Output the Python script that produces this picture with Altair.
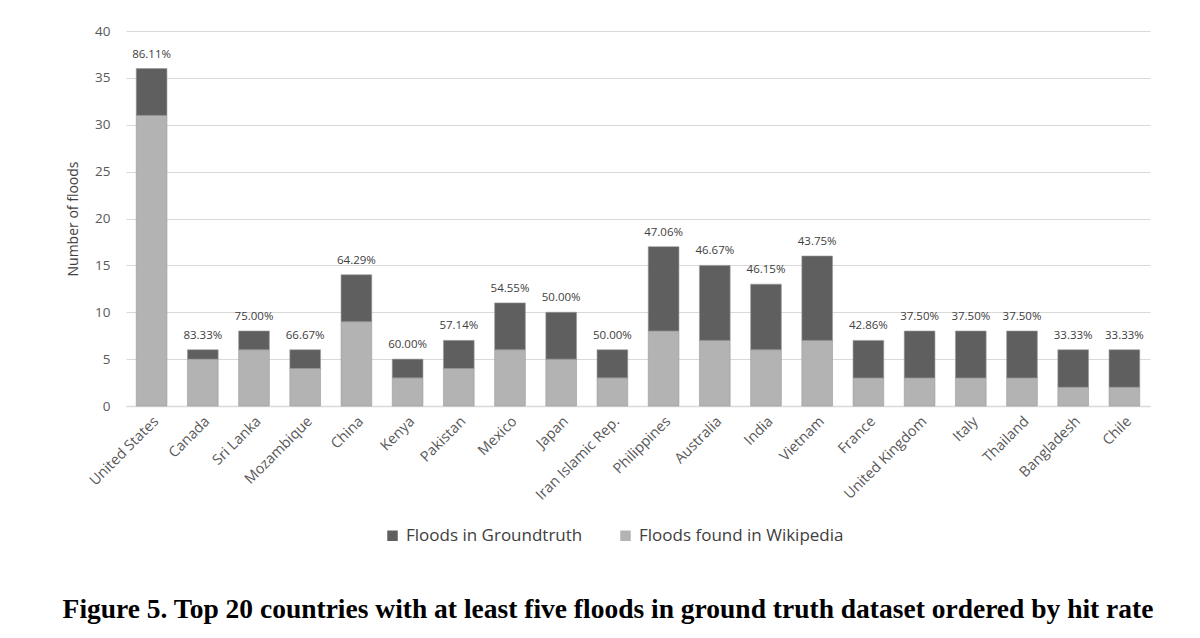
import altair as alt
import pandas as pd

countries = ["United States", "Canada", "Sri Lanka", "Mozambique", "China", "Kenya",
             "Pakistan", "Mexico", "Japan", "Iran Islamic Rep.", "Philippines", "Australia",
             "India", "Vietnam", "France", "United Kingdom", "Italy", "Thailand",
             "Bangladesh", "Chile"]
groundtruth = [36, 6, 8, 6, 14, 5, 7, 11, 10, 6, 17, 15, 13, 16, 7, 8, 8, 8, 6, 6]
wikipedia = [31, 5, 6, 4, 9, 3, 4, 6, 5, 3, 8, 7, 6, 7, 3, 3, 3, 3, 2, 2]
hit_rate = ["86.11%", "83.33%", "75.00%", "66.67%", "64.29%", "60.00%", "57.14%",
            "54.55%", "50.00%", "50.00%", "47.06%", "46.67%", "46.15%", "43.75%",
            "42.86%", "37.50%", "37.50%", "37.50%", "33.33%", "33.33%"]

S_GT = "Floods in Groundtruth"
S_WP = "Floods found in Wikipedia"

rows = []
for c, g, w in zip(countries, groundtruth, wikipedia):
    rows.append({"country": c, "series": S_WP, "value": w, "ord": 0})
    rows.append({"country": c, "series": S_GT, "value": g - w, "ord": 1})
df = pd.DataFrame(rows)
lab = pd.DataFrame({"country": countries, "total": groundtruth, "rate": hit_rate})

FONT = "Open Sans"
xenc = alt.X("country:N", sort=countries, title=None,
             scale=alt.Scale(paddingInner=0.4, paddingOuter=0.2),
             axis=alt.Axis(labelAngle=-45, labelFontSize=14.5, labelColor="#595959",
                           labelFont=FONT, ticks=False, domain=True, domainColor="#d9d9d9",
                           domainWidth=1.5, labelPadding=8, labelLimit=300))

bars = alt.Chart(df).mark_bar(stroke="#9a9a9a", strokeWidth=0.6).encode(
    x=xenc,
    y=alt.Y("value:Q", stack="zero", title="Number of floods",
            scale=alt.Scale(domain=[0, 40]),
            axis=alt.Axis(values=[0, 5, 10, 15, 20, 25, 30, 35, 40], grid=True,
                          gridColor="#d9d9d9", gridWidth=1.2, domain=False, ticks=False,
                          labelFontSize=13.5, labelColor="#595959", labelFont=FONT,
                          labelPadding=16, titleFont=FONT, titleFontSize=14,
                          titleFontWeight="normal", titleColor="#404040", titlePadding=14)),
    color=alt.Color("series:N",
                    scale=alt.Scale(domain=[S_GT, S_WP], range=["#5f5f5f", "#b3b3b3"]),
                    legend=alt.Legend(title=None, orient="none", direction="horizontal",
                                      legendX=258, legendY=496, symbolType="square",
                                      symbolSize=110, symbolStrokeWidth=0,
                                      labelFontSize=17, labelFont=FONT, labelColor="#404040",
                                      labelLimit=400, columnPadding=34, labelOffset=5)),
    order=alt.Order("ord:Q", sort="ascending"),
)

texts = alt.Chart(lab).mark_text(dy=-14, fontSize=11.5, font=FONT, color="#404040").encode(
    x=alt.X("country:N", sort=countries),
    y=alt.Y("total:Q"),
    text="rate:N",
)

chart = alt.layer(bars, texts).properties(
    width=1024, height=375,
    autosize=alt.AutoSizeParams(type="none"),
    padding={"left": 118, "top": 23, "right": 42, "bottom": 224},
    title=alt.TitleParams(
        "Figure 5. Top 20 countries with at least five floods in ground truth dataset ordered by hit rate",
        orient="bottom", anchor="middle", font="Liberation Serif", fontSize=27.5,
        fontWeight="bold", color="#000000", offset=52, dx=-30),
).configure_view(stroke=None)

chart.save("out.html", embed_options={"renderer": "svg", "actions": False})
